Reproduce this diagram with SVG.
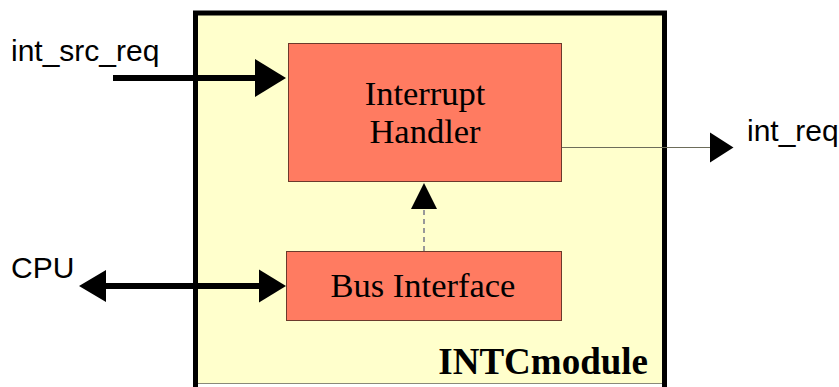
<svg xmlns="http://www.w3.org/2000/svg" width="839" height="387" viewBox="0 0 839 387">
  <style>
    .block { fill: #ff7b61; stroke: #6b3a2c; stroke-width: 1; }
    .serif { font-family: "Liberation Serif", "Times New Roman", serif; fill: #000; }
    .sans { font-family: "Liberation Sans", Arial, sans-serif; font-size: 30px; fill: #000; }
    .bus { stroke: #000; stroke-width: 6; fill: none; }
    .head { fill: #000; }
  </style>
  <rect width="839" height="387" fill="#ffffff"/>

  <!-- enclosing module (runs off the bottom edge) -->
  <g id="intc-module">
    <rect x="195.5" y="13" width="469" height="371" fill="#ffffcc"/>
    <line x1="198" y1="383.5" x2="662" y2="383.5" stroke="#8a8a78" stroke-width="1"/>
    <path d="M195.5,387 V13 H664.5 V387" fill="none" stroke="#000" stroke-width="5"/>
    <text class="serif" x="648" y="374" font-size="37" font-weight="bold" text-anchor="end">INTCmodule</text>
  </g>

  <g id="interrupt-handler">
    <rect class="block" x="288.5" y="43.5" width="273" height="138"/>
    <text class="serif" x="425" y="105" font-size="34.5" text-anchor="middle">Interrupt</text>
    <text class="serif" x="425" y="143" font-size="34.5" text-anchor="middle">Handler</text>
  </g>

  <g id="bus-interface">
    <rect class="block" x="286.5" y="251.5" width="275" height="69"/>
    <text class="serif" x="423" y="297" font-size="34.5" text-anchor="middle">Bus Interface</text>
  </g>

  <g id="labels">
    <text class="sans" x="11" y="61">int_src_req</text>
    <text class="sans" x="11" y="278">CPU</text>
    <text class="sans" x="747" y="141">int_req</text>
  </g>

  <g id="connectors">
    <!-- int_src_req into the handler -->
    <line class="bus" x1="113" y1="78" x2="258" y2="78"/>
    <polygon class="head" points="255,59 286,78 255,97"/>

    <!-- CPU <-> bus interface -->
    <line class="bus" x1="100" y1="286" x2="262" y2="286"/>
    <polygon class="head" points="106,270 79,286 106,302"/>
    <polygon class="head" points="259,269.5 286,286 259,302.5"/>

    <!-- bus interface to handler (dashed) -->
    <line x1="424" y1="251" x2="424" y2="209" stroke="#999" stroke-width="2" stroke-dasharray="5,4"/>
    <polygon class="head" points="411,209 424,183 437,209"/>

    <!-- int_req out -->
    <line x1="562" y1="147.5" x2="712" y2="147.5" stroke="#6d6d5a" stroke-width="1.2"/>
    <polygon class="head" points="710,132.5 733.5,147.5 710,162.5"/>
  </g>
</svg>
